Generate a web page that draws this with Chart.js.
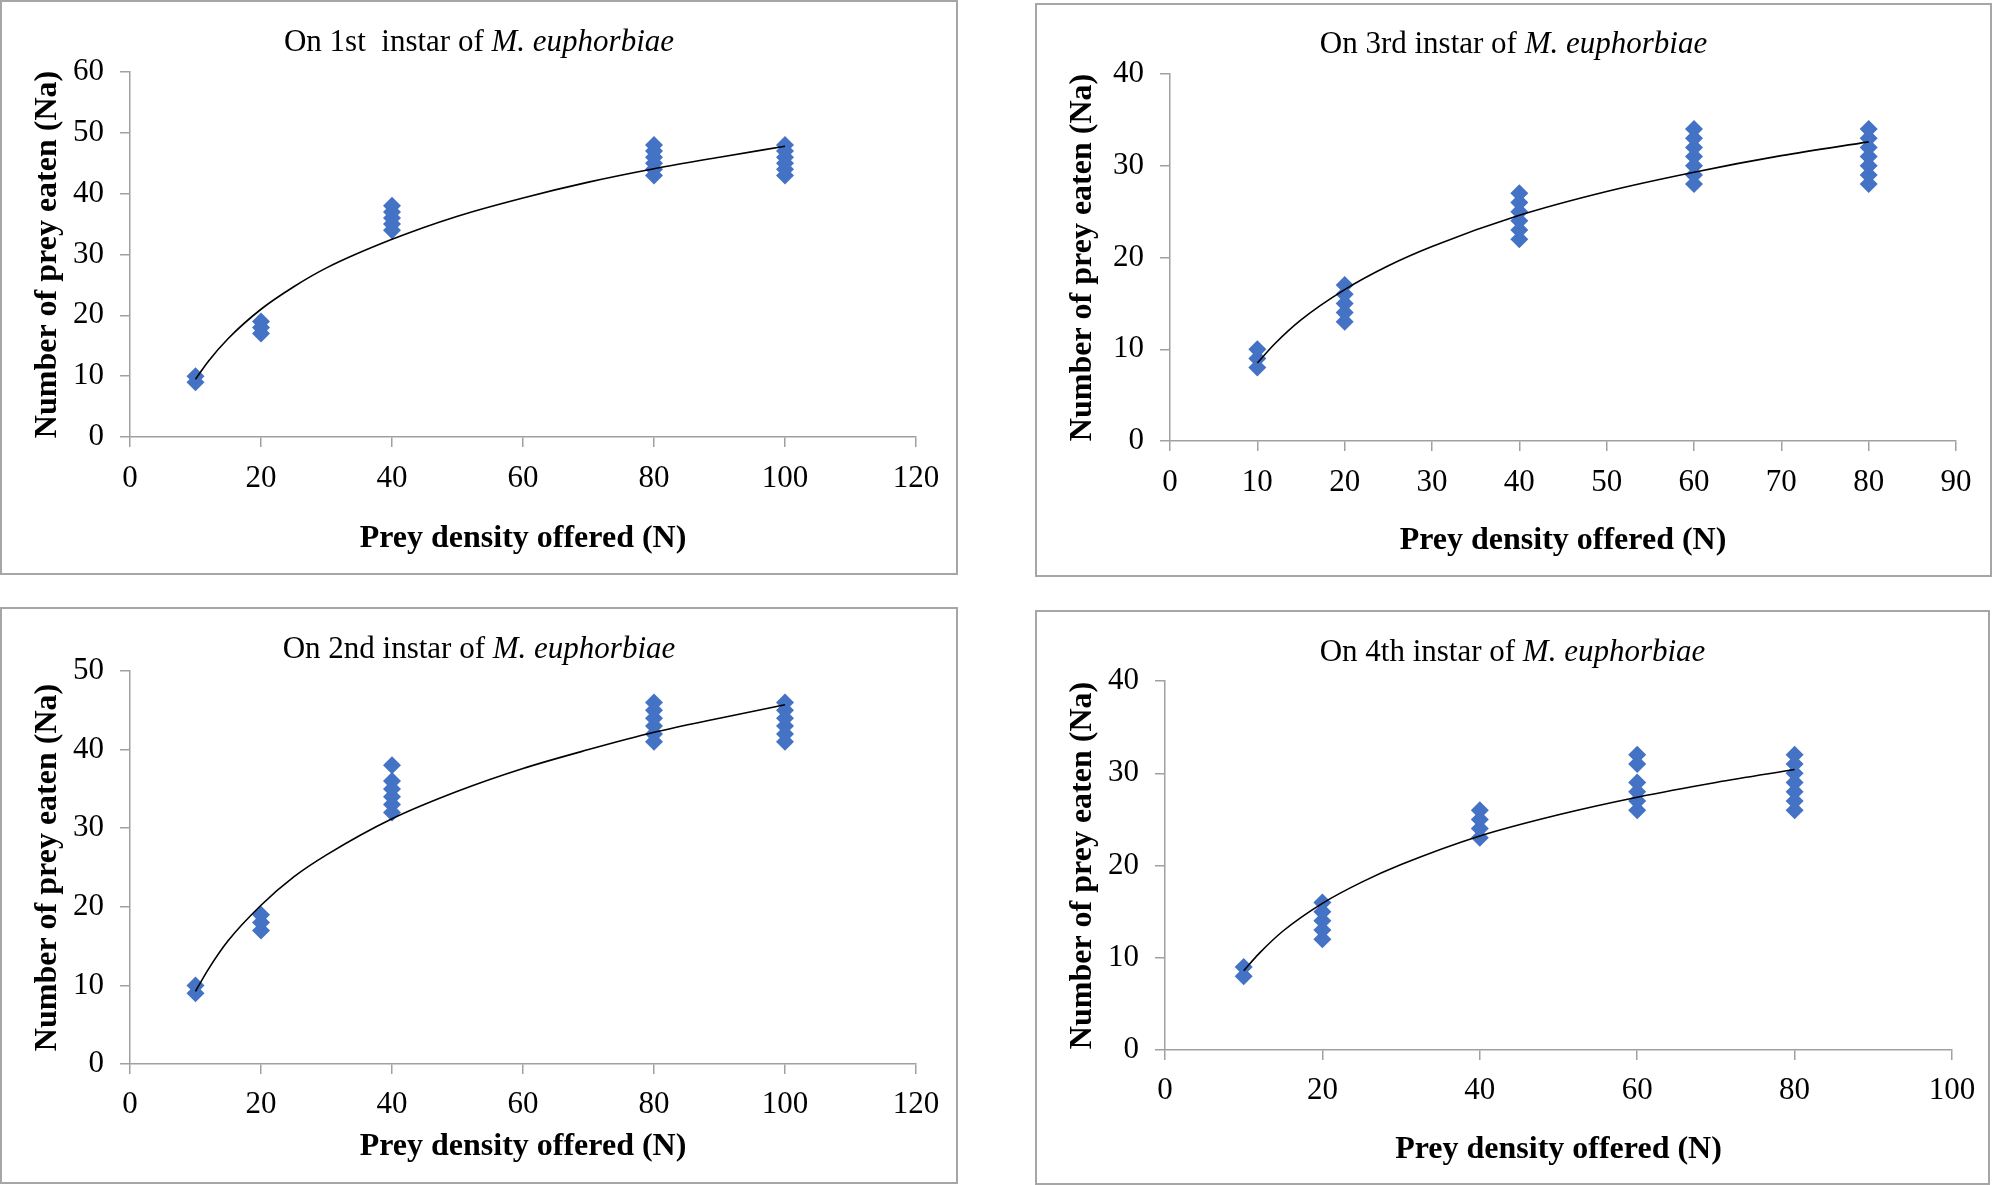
<!DOCTYPE html>
<html>
<head>
<meta charset="utf-8">
<script src="https://cdn.jsdelivr.net/npm/chart.js@4.4.1/dist/chart.umd.min.js"></script>
<style>
  html, body { margin: 0; padding: 0; background: #fff; }
  #page { position: relative; width: 1993px; height: 1185px; overflow: hidden; }
  .panel { position: absolute; box-sizing: border-box; border: 2px solid #a6a6a6; background: #fff; }
  .panel canvas { position: absolute; left: 0; top: 0; }
  .ttl { position: absolute; font-family: "Liberation Serif", "Times New Roman", serif; font-size: 31px;
         color: #000; white-space: pre; transform: translate(-50%, -50%); }
</style>
</head>
<body>
<div id="page"></div>
<script>
// --- data ---
const instar1Density = [10, 10, 20, 20, 20, 40, 40, 40, 40, 40, 80, 80, 80, 80, 80, 80, 100, 100, 100, 100, 100, 100];
const instar1Eaten   = [9, 10, 17, 18, 19, 34, 35, 36, 37, 38, 43, 44, 45, 46, 47, 48, 43, 44, 45, 46, 47, 48];
const instar1TrendX  = [10, 12, 15, 20, 25, 30, 40, 50, 60, 70, 80, 90, 100];
const instar1TrendY  = [9.5, 12.5, 16.2, 21.0, 24.7, 27.8, 32.5, 36.3, 39.3, 41.9, 44.1, 46.0, 47.8];

const instar2Density = [10, 10, 20, 20, 20, 40, 40, 40, 40, 40, 40, 80, 80, 80, 80, 80, 80, 100, 100, 100, 100, 100, 100];
const instar2Eaten   = [9, 10, 17, 18, 19, 32, 33, 34, 35, 36, 38, 41, 42, 43, 44, 45, 46, 41, 42, 43, 44, 45, 46];
const instar2TrendX  = [10, 12, 15, 20, 25, 30, 40, 50, 60, 70, 80, 90, 100];
const instar2TrendY  = [9.25, 12.1, 15.7, 20.2, 23.8, 26.6, 31.2, 34.7, 37.6, 40.0, 42.2, 44.0, 45.7];

const instar3Density = [10, 10, 10, 20, 20, 20, 20, 20, 40, 40, 40, 40, 40, 40, 60, 60, 60, 60, 60, 60, 60, 80, 80, 80, 80, 80, 80, 80];
const instar3Eaten   = [8, 9, 10, 13, 14, 15, 16, 17, 22, 23, 24, 25, 26, 27, 28, 29, 30, 31, 32, 33, 34, 28, 29, 30, 31, 32, 33, 34];
const instar3TrendX  = [10, 12, 15, 20, 25, 30, 40, 50, 60, 70, 80];
const instar3TrendY  = [8.5, 10.6, 13.2, 16.5, 19.1, 21.2, 24.6, 27.2, 29.3, 31.1, 32.6];

const instar4Density = [10, 10, 20, 20, 20, 20, 20, 40, 40, 40, 40, 60, 60, 60, 60, 60, 60, 80, 80, 80, 80, 80, 80, 80];
const instar4Eaten   = [8, 9, 12, 13, 14, 15, 16, 23, 24, 25, 26, 26, 27, 28, 29, 31, 32, 26, 27, 28, 29, 30, 31, 32];
const instar4TrendX  = [10, 12, 15, 20, 25, 30, 40, 50, 60, 70, 80];
const instar4TrendY  = [8.6, 10.5, 12.9, 15.9, 18.2, 20.1, 23.2, 25.5, 27.4, 29.0, 30.4];

const xTitle = 'Prey density offered (N)';
const yTitle = 'Number of prey eaten (Na)';

// box = panel border, area = plot area (page pixels)
const panels = [
  { stage: '1st ', density: instar1Density, eaten: instar1Eaten, tx: instar1TrendX, ty: instar1TrendY,
    xMax: 120, xStep: 20, yMax: 60, yStep: 10,
    box: [0, 0, 958, 575], area: [130, 72, 916, 437], titleY: 41, xLab: 13, xTtl: 17 },
  { stage: '3rd', density: instar3Density, eaten: instar3Eaten, tx: instar3TrendX, ty: instar3TrendY,
    xMax: 90, xStep: 10, yMax: 40, yStep: 10,
    box: [1035, 3, 1992, 577], area: [1170, 74, 1956, 441], titleY: 43, xLab: 13, xTtl: 17 },
  { stage: '2nd', density: instar2Density, eaten: instar2Eaten, tx: instar2TrendX, ty: instar2TrendY,
    xMax: 120, xStep: 20, yMax: 50, yStep: 10,
    box: [0, 607, 958, 1184], area: [130, 671, 916, 1064], titleY: 648, xLab: 12, xTtl: 18 },
  { stage: '4th', density: instar4Density, eaten: instar4Eaten, tx: instar4TrendX, ty: instar4TrendY,
    xMax: 100, xStep: 20, yMax: 40, yStep: 10,
    box: [1035, 610, 1990, 1185], area: [1165, 681, 1952, 1050], titleY: 651, xLab: 12, xTtl: 16 }
];

const font = 'Liberation Serif';
const axisGray = '#a0a0a0';
const page = document.getElementById('page');

panels.forEach(p => {
  const [bx0, by0, bx1, by1] = p.box;
  const [ax0, ay0, ax1, ay1] = p.area;
  const w = bx1 - bx0, h = by1 - by0;

  const div = document.createElement('div');
  div.className = 'panel';
  div.style.left = bx0 + 'px';
  div.style.top = by0 + 'px';
  div.style.width = w + 'px';
  div.style.height = h + 'px';
  page.appendChild(div);

  const canvas = document.createElement('canvas');
  canvas.width = w;
  canvas.height = h;
  canvas.style.left = '-2px';
  canvas.style.top = '-2px';
  div.appendChild(canvas);

  // chart title, centred on the panel box
  const ttl = document.createElement('div');
  ttl.className = 'ttl';
  ttl.style.left = (w / 2 - 2) + 'px';
  ttl.style.top = (p.titleY - by0 - 2) + 'px';
  ttl.innerHTML = 'On ' + p.stage + ' instar of <i>M. euphorbiae</i>';
  div.appendChild(ttl);

  const yWidth = ax0 - bx0;
  const xHeight = by1 - ay1;

  new Chart(canvas.getContext('2d'), {
    type: 'scatter',
    data: {
      datasets: [
        {
          data: p.tx.map((x, i) => ({ x: x, y: p.ty[i] })),
          showLine: true,
          borderColor: '#000',
          borderWidth: 1.6,
          pointRadius: 0,
          cubicInterpolationMode: 'monotone',
          order: 0
        },
        {
          data: p.density.map((x, i) => ({ x: x, y: p.eaten[i] })),
          pointStyle: 'rectRot',
          pointRadius: 9,
          backgroundColor: '#4472C4',
          borderColor: '#4472C4',
          borderWidth: 0,
          order: 1
        }
      ]
    },
    options: {
      responsive: false,
      animation: false,
      devicePixelRatio: 1,
      layout: { padding: { left: 0, top: ay0 - by0, right: bx1 - ax1, bottom: 0 } },
      plugins: { legend: { display: false }, tooltip: { enabled: false }, title: { display: false } },
      scales: {
        x: {
          type: 'linear',
          min: 0, max: p.xMax,
          ticks: { stepSize: p.xStep, color: '#000', padding: p.xLab, font: { family: font, size: 31 } },
          grid: { drawOnChartArea: false, drawTicks: true, tickLength: 10, color: axisGray, lineWidth: 1.5 },
          border: { display: true, color: axisGray, width: 1.5 },
          title: { display: true, text: xTitle, color: '#000', padding: { top: 0, bottom: p.xTtl },
                   font: { family: font, size: 32, weight: 'bold' } },
          afterFit: s => { s.height = xHeight; }
        },
        y: {
          min: 0, max: p.yMax,
          ticks: { stepSize: p.yStep, color: '#000', padding: 16, font: { family: font, size: 31 } },
          grid: { drawOnChartArea: false, drawTicks: true, tickLength: 10, color: axisGray, lineWidth: 1.5 },
          border: { display: true, color: axisGray, width: 1.5 },
          title: { display: true, text: yTitle, color: '#000', padding: { top: 29, bottom: 0 },
                   font: { family: font, size: 32, weight: 'bold' } },
          afterFit: s => { s.width = yWidth; }
        }
      }
    }
  });
});
</script>
</body>
</html>
